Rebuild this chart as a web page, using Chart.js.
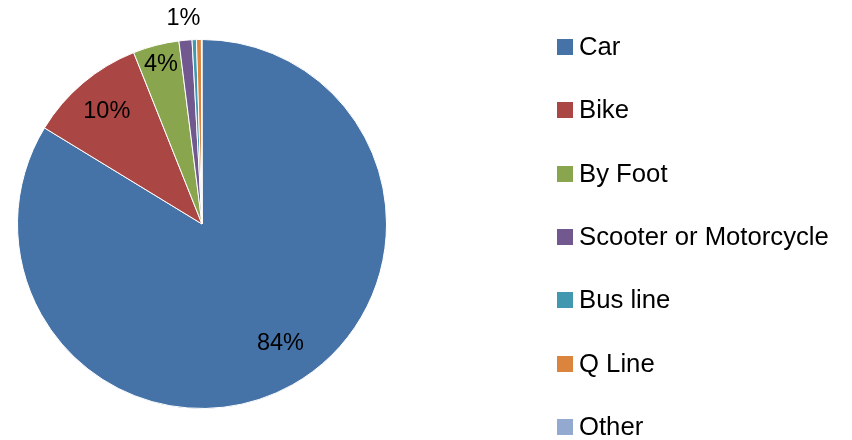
<!DOCTYPE html>
<html>
<head>
<meta charset="utf-8">
<script src="https://cdn.jsdelivr.net/npm/chart.js@4.4.1/dist/chart.umd.min.js"></script>
<style>
  html, body { margin: 0; padding: 0; background: #fff; }
  #wrap { position: relative; width: 852px; height: 440px; overflow: hidden; }
  #chart { position: absolute; left: 0; top: 0; }
  #legend { position: absolute; left: 557px; top: 15.3px; }
  .item { display: flex; align-items: center; height: 63.33px; }
  .box { width: 16px; height: 16px; margin-right: 6px; }
  .txt { font-family: 'Liberation Sans', Arial, sans-serif; font-size: 25.7px; line-height: 1; color: #000; white-space: nowrap; }
</style>
</head>
<body>
<div id="wrap">
  <canvas id="chart" width="852" height="440"></canvas>
  <div id="legend"></div>
</div>
<script>
const categories = ['Car', 'Bike', 'By Foot', 'Scooter or Motorcycle', 'Bus line', 'Q Line', 'Other']
const shares = [83.75, 10.25, 4.04, 1.14, 0.38, 0.43, 0.05]
const colors = ['#4572A7', '#AA4643', '#89A54E', '#71588F', '#4198AF', '#DB843D', '#93A9CF']

// draws the percentage labels in/around the slices
const pctLabels = {
  id: 'pctLabels',
  afterDatasetsDraw(chart, args, opts) {
    const ctx = chart.ctx
    const meta = chart.getDatasetMeta(0)
    const data = chart.data.datasets[0].data
    const total = data.reduce((a, b) => a + b, 0)
    ctx.save()
    ctx.font = opts.font
    ctx.fillStyle = '#000'
    ctx.textAlign = 'center'
    ctx.textBaseline = 'middle'
    meta.data.forEach((arc, i) => {
      const pct = Math.round(data[i] / total * 100)
      if (pct < 1) return
      const p = arc.getProps(['x', 'y', 'startAngle', 'endAngle', 'outerRadius'], true)
      const mid = (p.startAngle + p.endAngle) / 2
      const r = p.outerRadius * (opts.radius[i] || 0.75)
      const nudge = opts.nudge[i] || [0, 0]
      const x = p.x + Math.cos(mid) * r + nudge[0]
      const y = p.y + Math.sin(mid) * r + nudge[1]
      ctx.fillText(pct + '%', x, y)
    })
    ctx.restore()
  }
}

const ctx = document.getElementById('chart').getContext('2d')
const chart = new Chart(ctx, {
  type: 'pie',
  data: {
    labels: categories,
    datasets: [{
      data: shares,
      backgroundColor: colors,
      borderColor: '#ffffff',
      borderWidth: 1
    }]
  },
  options: {
    responsive: false,
    animation: false,
    layout: {
      padding: {left: 17, top: 39, right: 465, bottom: 31}
    },
    plugins: {
      legend: { display: false },
      tooltip: { enabled: false },
      pctLabels: {
        font: "23.5px 'Liberation Sans', Arial, sans-serif",
        radius: [0.78, 0.8, 0.89, 1.12],
        nudge: [[8, -6], [0, 0], [0, 0], [0, 0]]
      }
    }
  },
  plugins: [pctLabels]
})

// html legend, built from the chart's own legend items
const legendEl = document.getElementById('legend')
const items = Chart.overrides.pie.plugins.legend.labels.generateLabels(chart)
for (let item of items) {
  const row = document.createElement('div')
  row.className = 'item'
  const box = document.createElement('span')
  box.className = 'box'
  box.style.background = item.fillStyle
  const txt = document.createElement('span')
  txt.className = 'txt'
  txt.textContent = item.text
  row.appendChild(box)
  row.appendChild(txt)
  legendEl.appendChild(row)
}
</script>
</body>
</html>
